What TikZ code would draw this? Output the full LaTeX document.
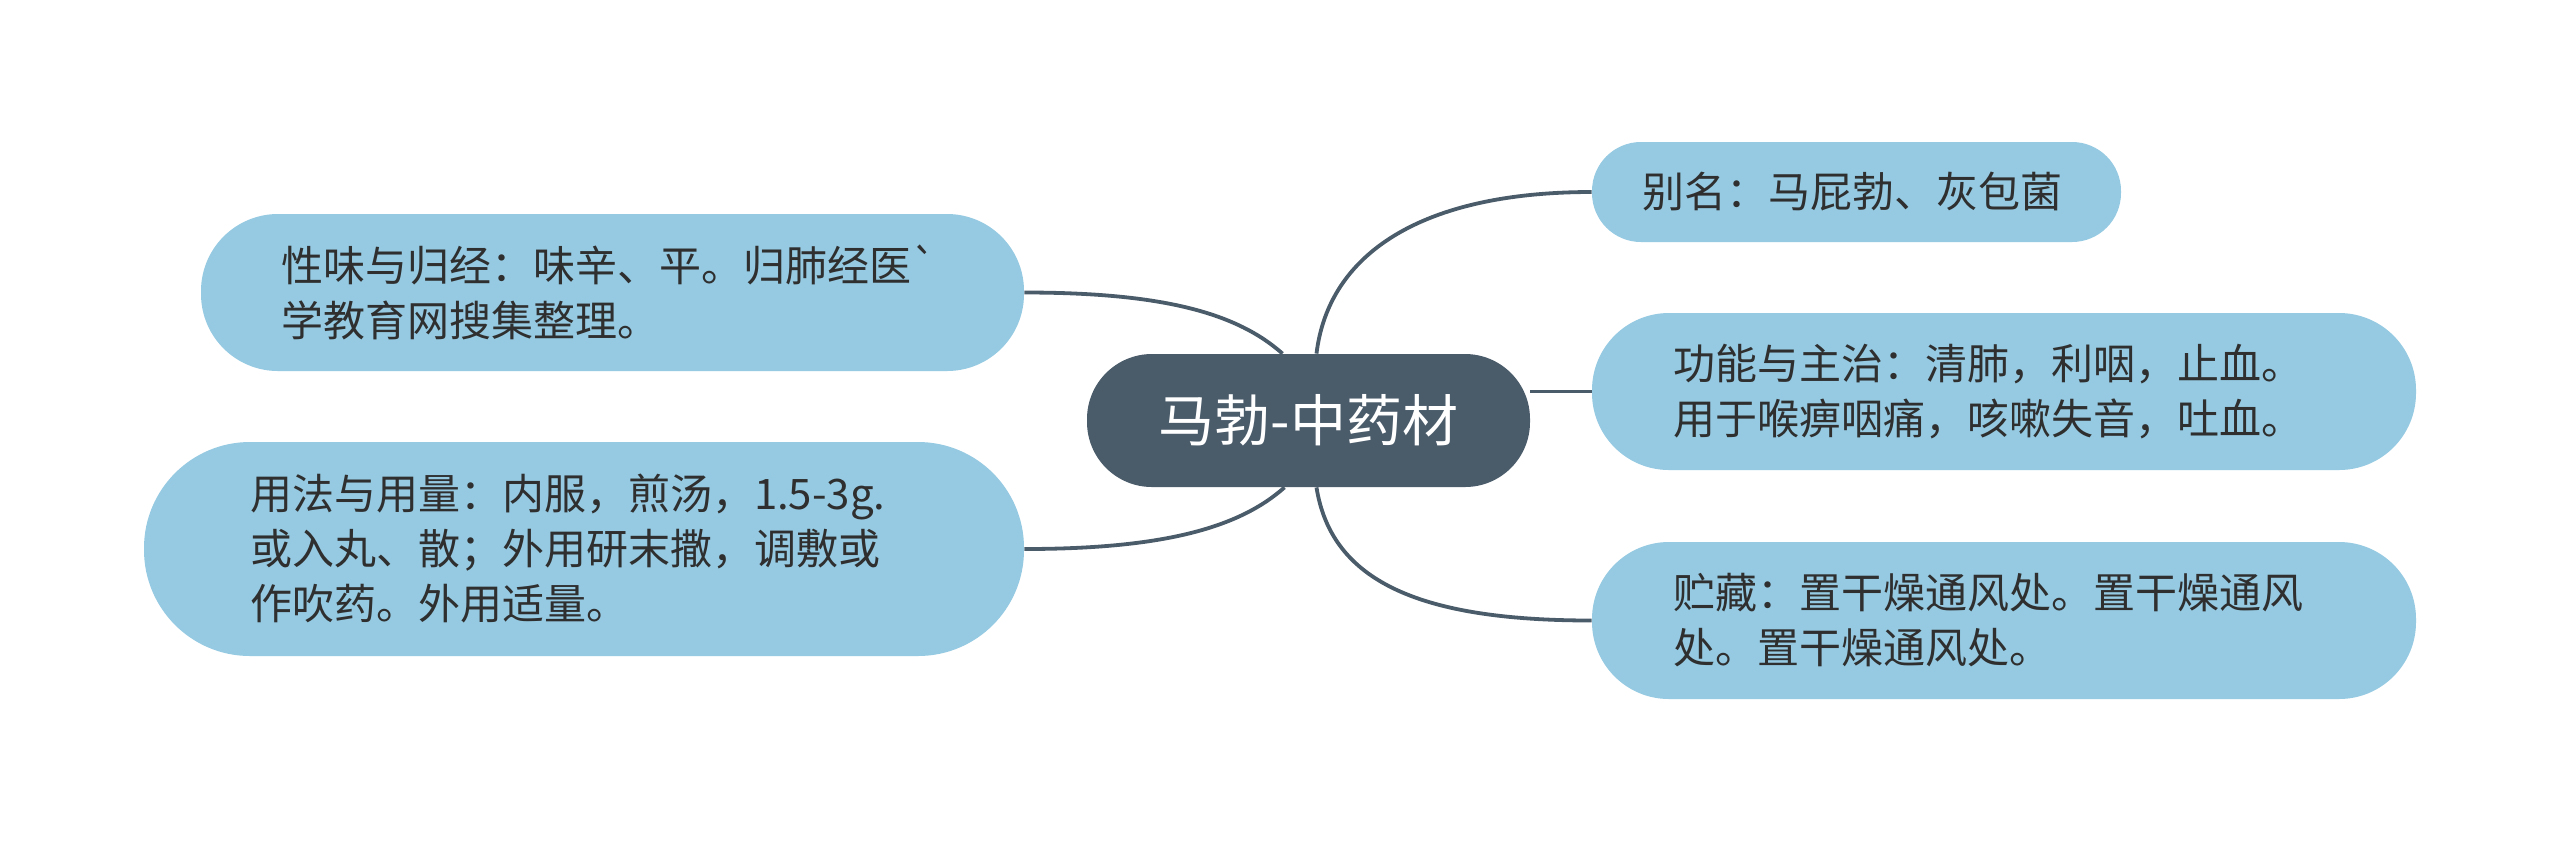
\documentclass[tikz,border=0pt]{standalone}
\usepackage{fontspec}
\setmainfont{Noto Sans CJK SC}
\newfontfamily\rawcjk{Noto Sans CJK SC}
\usetikzlibrary{calc,backgrounds}
\definecolor{hub}{HTML}{4A5B6A}
\definecolor{leafblue}{HTML}{95CAE2}
\definecolor{inkc}{HTML}{2F2F2F}
\tikzset{
  hubnode/.style={fill=hub, text=white, rounded corners=32.5pt, minimum width=221.5pt,
    minimum height=66.5pt, inner sep=0pt, font=\fontsize{28}{34}\selectfont},
  leafnode/.style={fill=leafblue, text=inkc, align=left, inner ysep=0pt,
    font=\fontsize{21}{27.5}\selectfont},
  link/.style={draw=hub, line width=1.9pt},
}
\begin{document}
\begin{tikzpicture}[x=0.5pt,y=-0.5pt]
\useasboundingbox (0,0) rectangle (2560,843);

\node[hubnode] (c) at (1308.5,420.5) {马勃-中药材};

\node[leafnode, minimum width=264.5pt, minimum height=50pt, inner xsep=25pt,
  text width=214.5pt, rounded corners=24.5pt] (r1) at (1856.5,192) {别名：马屁勃、灰包菌};
\node[leafnode, minimum width=412pt, minimum height=78.5pt, inner xsep=40.5pt,
  text width=331pt, rounded corners=38.5pt] (r2) at (2004,391.5)
  {功能与主治：清肺，利咽，止血。\\用于喉痹咽痛，咳嗽失音，吐血。};
\node[leafnode, minimum width=412pt, minimum height=78.5pt, inner xsep=40.5pt,
  text width=331pt, rounded corners=38.5pt] (r3) at (2004,620.5)
  {贮藏：置干燥通风处。置干燥通风\\处。置干燥通风处。};
\node[leafnode, minimum width=411.5pt, minimum height=78.5pt, inner xsep=40pt,
  text width=331.5pt, rounded corners=38.5pt] (l1) at (612.5,292.5)
  {性味与归经：味辛、平。归肺经医{\rawcjk`}\\学教育网搜集整理。};
\node[leafnode, minimum width=440pt, minimum height=107pt, inner xsep=53pt,
  text width=334pt, rounded corners=53pt] (l2) at (584,549)
  {用法与用量：内服，煎汤，1.5-3g.\\或入丸、散；外用研末撒，调敷或\\作吹药。外用适量。};

\begin{scope}[on background layer]
\fill[white] (0,0) rectangle (2560,843);
\draw[link] ([xshift=4pt]c.north) .. controls +(12,-100) and +(-170,0) .. (r1.west);
\draw[link] (r2.west -| c.east) -- (r2.west);
\draw[link] ([xshift=4pt]c.south) .. controls +(15,95) and +(-170,0) .. (r3.west);
\draw[link] ([xshift=-13pt]c.north) .. controls +(-45,-40) and +(140,0) .. (l1.east);
\draw[link] ([xshift=-12pt]c.south) .. controls +(-45,40) and +(140,0) .. (l2.east);
\end{scope}
\end{tikzpicture}
\end{document}
